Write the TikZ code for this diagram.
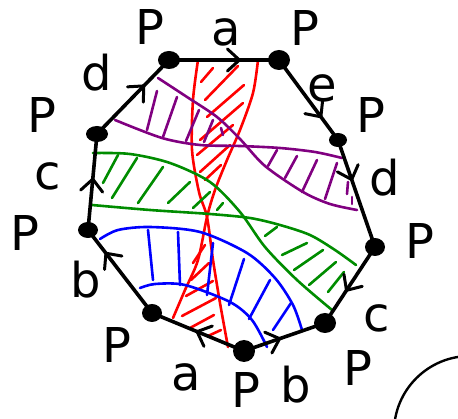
\documentclass[tikz,border=0pt]{standalone}
\usepackage{fontspec}
\setmainfont{DejaVu Sans}
\usepackage{tikz}
\usetikzlibrary{arrows.meta, decorations.markings}
\definecolor{BandPurple}{RGB}{128,0,128}
\definecolor{BandGreen}{RGB}{0,140,0}
\definecolor{BandBlue}{RGB}{0,0,255}
\definecolor{BandRed}{RGB}{255,0,0}

\begin{document}
\begin{tikzpicture}[x=1pt,y=-1pt,
  side/.style={line width=3.6pt, line cap=round, postaction={decorate},
    decoration={markings, mark=at position #1 with {\draw[line width=3pt, line cap=round, line join=round] (-12pt,-11pt) -- (0pt,0pt) -- (-12pt,11pt);}}},
  band/.style={line width=2.6pt, line cap=round},
  lbl/.style={font=\fontsize{48}{48}\selectfont, inner sep=0pt}]
  \path[use as bounding box] (0,0) rectangle (458,419);

  \foreach \n/\x/\y in {v1/169/60, v2/279/60, v3/338/140, v4/375/247, v5/325/323,
                        v6/244/351, v7/152/313, v8/88/230, v9/97/134}
    \coordinate (\n) at (\x,\y);

  \draw[band, BandRed] plot[smooth] coordinates {(198,60) (193,100) (192,150) (199,192) (207,217) (213,260) (220,303) (228,347)};
  \draw[band, BandRed] plot[smooth] coordinates {(258,60) (253,93) (240,130) (227,160) (215,190) (207,217) (198,260) (185,290) (173,318)};
  \foreach \xa/\ya/\xb/\yb in {213/68/201/82, 238/66/205/100, 244/85/207/117, 243/103/200/140,
                               233/125/197/155, 230/145/200/172, 221/165/205/180,
                               205/245/193/263, 209/263/191/280, 213/281/186/296,
                               216/298/182/316, 214/315/190/328, 221/330/208/336}
    \draw[band, BandRed] (\xa,\ya) -- (\xb,\yb);

  \draw[band, BandPurple] plot[smooth] coordinates {(158,78) (187,97) (217,117) (240,139) (265,166) (303,192) (330,204) (357,210)};
  \draw[band, BandPurple] plot[smooth] coordinates {(115,120) (162,138) (200,145) (240,146) (280,148) (315,152) (342,158)};
  \foreach \xa/\ya/\xb/\yb in {157/91/147/130, 177/97/163/137, 199/110/186/141, 213/120/204/142,
                               221/128/223/135, 277/150/268/166, 297/156/285/178, 317/160/302/192,
                               337/163/325/199, 348/182/347/194, 352/197/352/204}
    \draw[band, BandPurple] (\xa,\ya) -- (\xb,\yb);

  \draw[band, BandGreen] plot[smooth] coordinates {(93,153) (130,154) (170,163) (210,182) (240,212) (265,247) (297,280) (332,310)};
  \draw[band, BandGreen] plot[smooth] coordinates {(92,205) (150,210) (210,214) (250,218) (280,225) (310,235) (335,250) (356,265)};
  \foreach \xa/\ya/\xb/\yb in {118/155/103/183, 137/158/112/198, 163/167/138/203, 190/182/168/203,
                               210/192/193/208, 223/203/217/210, 277/227/265/236, 307/243/282/255,
                               323/250/294/270, 336/262/309/285, 344/272/328/292}
    \draw[band, BandGreen] (\xa,\ya) -- (\xb,\yb);

  \draw[band, BandBlue] plot[smooth] coordinates {(100,239) (118,230) (150,227) (200,232) (247,253) (275,278) (293,305) (302,330)};
  \draw[band, BandBlue] plot[smooth] coordinates {(140,288) (155,284) (185,285) (230,302) (252,320) (267,347)};
  \foreach \xa/\ya/\xb/\yb in {148/230/153/280, 178/232/180/285, 213/243/207/295,
                               244/259/229/305, 270/280/249/319, 291/303/273/330}
    \draw[band, BandBlue] (\xa,\ya) -- (\xb,\yb);

  \foreach \a/\b/\p in {v1/v2/0.64, v2/v3/0.71, v3/v4/0.37, v4/v5/0.57, v6/v5/0.44,
                        v6/v7/0.51, v7/v8/0.72, v8/v9/0.53, v9/v1/0.65}
    \draw[side=\p] (\a) -- (\b);

  \foreach \n/\rx/\ry in {v1/11/9, v2/11/10, v3/9/7, v4/10/9, v5/11/10,
                          v6/11/11, v7/10/9, v8/10/8, v9/11/8}
    \fill (\n) ellipse[x radius=\rx, y radius=\ry];

  \foreach \n/\x/\y in {p1/150/27, p2/305/28, p3/371/115, p4/420/241, p5/358/368,
                        p6/246/390, p7/117/345, p8/25/233, p9/42/115}
    \node[lbl] (\n) at (\x,\y) {P};

  \foreach \n/\x/\y/\t in {ta/226/32/a, te/322/88/e, rd/385/178/d, rc/377/318/c, bb/296/385/b,
                           ba/186/377/a, lb/86/280/b, lc/48/176/c, ld/97/73/d}
    \node[lbl] (\n) at (\x,\y) {\t};

  \draw[line width=2.4pt] (470,432) circle[radius=76];
\end{tikzpicture}
\end{document}
